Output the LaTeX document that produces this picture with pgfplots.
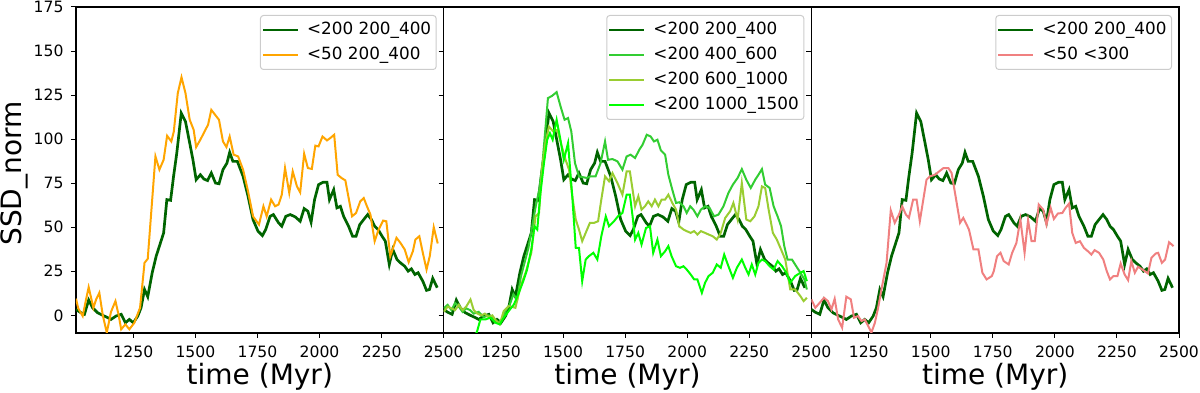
\documentclass[border=0pt]{standalone}
\usepackage{fontspec}
\setmainfont{DejaVu Sans}
\usepackage{pgfplots}
\pgfplotsset{compat=1.18}
\usepackage{pgfplotstable}

\definecolor{dgreen}{HTML}{006400}
\definecolor{morange}{HTML}{FFA500}
\definecolor{mlimegreen}{HTML}{32CD32}
\definecolor{myellowgreen}{HTML}{9ACD32}
\definecolor{mlime}{HTML}{00FF00}
\definecolor{mcoral}{HTML}{F08080}
\definecolor{legframe}{HTML}{CCCCCC}

\pgfplotstableread{
t v
1019 3.4
1035 1.8
1053 0.6
1070 8.7
1086 4.3
1106 1.5
1127 0
1147 -1.3
1160 -2.3
1180 -0.4
1201 0.6
1218 -4.2
1234 -2.3
1250 -4.2
1268 -0.4
1281 4.3
1295 14.7
1308 10.6
1326 24.2
1342 33.6
1355 39.3
1372 46.8
1385 65.7
1400 65.3
1412 78.9
1425 92.1
1443 114.8
1460 110
1477 97.8
1490 88.3
1503 77
1520 79.8
1534 77.4
1549 76.5
1564 80.8
1581 75.1
1595 74.7
1611 82.7
1627 86.4
1638 92.5
1651 87.4
1669 87.4
1692 78.9
1712 67.6
1732 54.4
1752 47.8
1770 45.3
1783 48.7
1801 56.2
1814 57.2
1835 52.5
1848 50.6
1864 56.2
1882 57.2
1902 55.9
1922 53.4
1938 60.6
1953 59.1
1966 52.9
1980 65.7
1996 74.2
2014 75.5
2030 75.5
2040 65.7
2057 71.3
2070 61
2084 61.9
2097 56.2
2117 50.6
2133 44.9
2147 44.9
2162 51.5
2178 54.4
2194 57.2
2209 54.4
2222 50.6
2236 48.7
2252 44.9
2265 42.1
2281 28.9
2295 37.4
2312 31.7
2326 29.8
2343 27.9
2357 25.1
2370 26.4
2384 23.2
2397 24.2
2416 19.4
2431 14.2
2443 14.7
2456 21
2474 15.7
}\dgdata

\pgfplotstableread{
t v
1019 9.5
1028 4
1046 -0.4
1058 8
1070 16.0
1089 4.3
1100 9
1113 12.8
1127 0
1143 -9.8
1160 2
1178 8.1
1191 0
1201 -7.9
1218 -5.1
1234 -7.9
1254 -4.2
1277 4.3
1295 29.8
1308 32.1
1339 90.2
1355 82.7
1372 88.3
1386 101.9
1403 98.7
1413 104.4
1429 126.1
1444 135.1
1460 126.1
1477 111
1493 105.3
1503 95.5
1520 99.7
1537 104.4
1551 108.2
1564 116.6
1595 111
1611 98.7
1625 95.5
1638 101.5
1654 91.2
1672 90.2
1692 82.7
1712 70.4
1732 56.2
1756 51.5
1774 61.9
1787 56.2
1805 65.7
1821 61.9
1835 62.9
1848 68.5
1861 83.6
1878 69.5
1892 81.7
1909 73.2
1922 69.8
1938 91.7
1953 83.6
1969 83.1
1983 96.3
1996 95.9
2012 101.5
2030 99.3
2043 100.6
2059 102.5
2073 79.8
2088 78
2104 76.6
2131 56.2
2147 58.1
2164 64.7
2178 66.6
2191 61.9
2205 57.2
2222 42.1
2238 48.7
2256 53.8
2269 53.4
2285 33.6
2310 44
2326 41.1
2343 37.4
2359 30.2
2376 36.4
2386 43
2402 44.9
2416 35.5
2431 26
2444 33.6
2460 50
2476 40.8
}\ordata

\pgfplotstableread{
t v
1019 4
1035 6
1050 3
1065 7
1080 5
1095 2
1110 4
1125 3
1140 1
1160 2
1180 -1
1200 0
1220 -2
1240 -4
1255 -2
1270 3
1285 6
1300 12
1315 9
1330 22
1345 30
1360 38
1375 50
1390 62
1405 72
1418 88
1430 108
1439 123.3
1456 124.6
1474 126.7
1490 118.5
1506 111
1520 112
1533 104.4
1548 86.4
1564 78.9
1577 78.5
1595 78
1611 78.9
1631 78.9
1651 86.4
1669 98.7
1681 88.3
1699 88.7
1719 87.4
1739 82.7
1756 90.2
1772 91.2
1790 89.3
1807 94
1820 96.8
1837 102.5
1853 101.5
1866 98.7
1880 99.7
1894 93.6
1911 91.2
1924 79.8
1940 71.3
1955 63.8
1968 64.2
1985 61.9
1998 58.1
2012 61.9
2025 60
2041 56.2
2055 60
2072 61.9
2090 61
2108 56.2
2126 57.2
2146 61.9
2166 69.5
2184 74.2
2203 78
2220 83
2238 77
2256 72.3
2274 77
2287 79.8
2301 83
2314 74.2
2332 72.3
2348 61.9
2364 56.2
2378 50.6
2391 39.3
2404 31.7
2422 31.7
2439 27.9
2456 24.2
2472 20.4
2482 14.7
}\mgdata

\pgfplotstableread{
t v
1019 2
1035 5
1050 4
1065 3
1080 6
1095 3
1110 5
1127 9
1140 3
1155 1
1170 0
1185 1
1200 -1
1215 0
1230 -3
1245 -5
1261 2.5
1281 5.3
1308 4.3
1329 16.6
1349 24.2
1372 35.5
1389 56.2
1403 58.1
1416 84.6
1429 97.8
1443 107.2
1460 104.4
1477 105.3
1493 96.8
1510 88.3
1524 82.7
1537 67.6
1551 54.4
1564 48.7
1577 42.1
1591 46.8
1608 52.5
1625 52.5
1641 53.4
1654 65.7
1669 78.9
1685 76.1
1699 80.8
1719 75.1
1739 68.5
1756 81.7
1769 81.7
1790 61.9
1803 67.6
1816 60
1830 61.9
1843 64.7
1857 61.9
1870 65.7
1884 61.9
1897 65.7
1911 65.7
1924 68.5
1940 63.8
1955 60
1968 50.6
1985 48.7
1998 47.8
2014 46.8
2028 47.8
2041 45.9
2055 47.8
2072 46.8
2086 45.9
2103 44.9
2119 43
2135 46.8
2153 55.3
2173 59.1
2186 63.8
2203 54.4
2220 75.1
2238 54.4
2254 53.4
2271 56.2
2287 61.9
2301 73.2
2314 72.3
2328 60
2345 46.8
2361 43
2378 37.4
2395 31.7
2415 14.7
2435 14.7
2456 10.9
2469 8.1
2482 10
}\ygdata

\pgfplotstableread{
t v
1019 -20
1100 -25
1135 -15
1154 -8.9
1167 -2.3
1187 -2.3
1207 -1.3
1228 -4.2
1245 -5.1
1261 -1.3
1281 2.5
1302 6.2
1322 12.8
1342 20.4
1355 26
1372 37.4
1385 50.6
1396 48.7
1409 69.5
1423 86.4
1436 99.7
1447 103.4
1458 99.7
1474 111
1487 101.5
1503 88.3
1520 97.8
1537 67.6
1551 38.3
1564 38.3
1577 19.4
1591 31.7
1604 33.6
1622 35.5
1638 31.7
1654 44.9
1672 56.2
1685 50.6
1705 53.4
1721 56.2
1739 58.1
1756 68.5
1769 68.5
1780 56.2
1790 43
1803 46.8
1816 40.2
1834 49.6
1850 50.6
1863 35.5
1880 43
1894 33.6
1911 36.4
1924 39.3
1937 33.6
1955 27.9
1971 27
1985 27.9
1998 26
2014 23.2
2028 20.4
2041 20.4
2059 12.8
2072 18.5
2086 22.3
2103 24.2
2119 28.9
2135 27
2149 34.5
2166 27.9
2184 21.3
2200 27
2220 31.7
2234 27
2247 23.2
2260 28.9
2274 23.2
2287 29.8
2301 31.7
2314 30.8
2332 27.9
2348 26
2364 30.8
2382 27.9
2399 24.2
2415 18.5
2435 22.3
2456 24.2
2469 25.1
2482 19.4
}\lmdata

\pgfplotstableread{
t v
1019 9.1
1035 4.3
1053 7.2
1070 10
1086 8.1
1100 3.4
1113 9.4
1127 -2.3
1143 -7
1160 10.6
1178 9.1
1191 -1.3
1207 -0.4
1221 -3.2
1234 -2.3
1248 -6
1261 -9.8
1275 -4.2
1288 4.3
1304 16.6
1322 29.8
1339 59.6
1355 52.5
1372 57.2
1385 61.9
1400 57.2
1412 55.3
1429 65.7
1443 65.7
1456 53.4
1470 65.7
1483 77
1497 78.9
1517 79.8
1534 81.7
1551 83.6
1571 83.6
1584 80.8
1600 67.6
1618 52.5
1631 55.3
1641 52.5
1654 48.7
1672 37.4
1692 37.4
1708 24.2
1725 20.4
1746 22.3
1754 25.1
1767 33.6
1781 35.5
1794 30.8
1814 28.9
1828 35.5
1845 41.1
1861 54.4
1878 35.5
1892 54
1906 42.1
1919 42.1
1935 62.9
1953 60
1966 51.5
1983 61
1996 54.7
2012 57.8
2030 58.1
2043 61
2057 63.4
2070 46.8
2084 41.1
2101 42.1
2117 38.3
2133 36.4
2147 34.5
2160 37
2178 35.5
2195 31.7
2209 25.1
2222 20.4
2236 22.3
2252 22.3
2265 29.4
2281 23.2
2295 20
2308 30.8
2322 24.2
2335 27.6
2353 26
2375 23.8
2389 32.7
2406 35.1
2416 35.5
2431 29.8
2444 31.7
2460 41.5
2478 39.3
}\lcdata

\pgfplotsset{
  panel/.style={
    scale only axis, width=367.67pt, height=326pt,
    xmin=1019, xmax=2500, ymin=-10, ymax=175,
    xtick={1250,1500,1750,2000,2250,2500},
    ytick={0,25,50,75,100,125,150,175},
    tick align=outside, tick pos=left,
    major tick length=5pt,
    every tick/.append style={black, line width=1pt},
    axis line style={line width=1.1pt},
    /pgf/number format/1000 sep={},
    /pgf/number format/assume math mode=true,
    tick label style={font=\fontsize{15.6}{18}\selectfont},
    xticklabel shift=4pt,
    yticklabel shift=4pt,
    xlabel={time (Myr)},
    xlabel style={font=\fontsize{28}{32}\selectfont, at={(axis description cs:0.5,-0.1595)}, anchor=base},
    legend cell align=left,
    legend image code/.code={\draw[##1] (0pt,0pt) -- (35pt,0pt);},
    legend style={anchor=north east, draw=legframe, line width=1pt, rounded corners=3pt,
      fill=white, fill opacity=0.8, text opacity=1,
      font=\fontsize{16.8}{19}\selectfont,
      inner xsep=1pt, inner ysep=5pt, row sep=6pt, column sep=4pt,
      nodes={inner xsep=4pt, inner ysep=1pt, text height=13pt, text depth=4pt}},
    dgline/.style={color=dgreen, line width=2.7pt},
    thinline/.style={line width=2pt},
  }
}

\begin{document}
\begin{tikzpicture}
\begin{axis}[panel, at={(0pt,0pt)},
  ylabel={SSD\_norm},
  ylabel style={font=\fontsize{28}{32}\selectfont, at={(axis description cs:-0.1469,0.4893)}, anchor=base, rotate=0},
  legend style={at={(axis description cs:0.981,0.9755)}}]
\addplot[dgline] table[x=t,y=v] {\dgdata};
\addlegendentry{<200 200\_400}
\addplot[thinline, color=morange] table[x=t,y=v] {\ordata};
\addlegendentry{<50 200\_400}
\end{axis}

\begin{axis}[panel, at={(367.67pt,0pt)}, yticklabels={},
  legend style={at={(axis description cs:0.981,0.9755)}}]
\addplot[dgline] table[x=t,y=v] {\dgdata};
\addlegendentry{<200 200\_400}
\addplot[thinline, color=mlimegreen] table[x=t,y=v] {\mgdata};
\addlegendentry{<200 400\_600}
\addplot[thinline, color=myellowgreen] table[x=t,y=v] {\ygdata};
\addlegendentry{<200 600\_1000}
\addplot[thinline, color=mlime] table[x=t,y=v] {\lmdata};
\addlegendentry{<200 1000\_1500}
\end{axis}

\begin{axis}[panel, at={(735.33pt,0pt)}, yticklabels={},
  legend style={at={(axis description cs:0.981,0.9755)}}]
\addplot[dgline] table[x=t,y=v] {\dgdata};
\addlegendentry{<200 200\_400}
\addplot[thinline, color=mcoral] table[x=t,y=v] {\lcdata};
\addlegendentry{<50 <300}
\end{axis}

\pgfresetboundingbox
\path[use as bounding box] (-76pt,-60pt) rectangle (1124pt,333pt);
\end{tikzpicture}
\end{document}
